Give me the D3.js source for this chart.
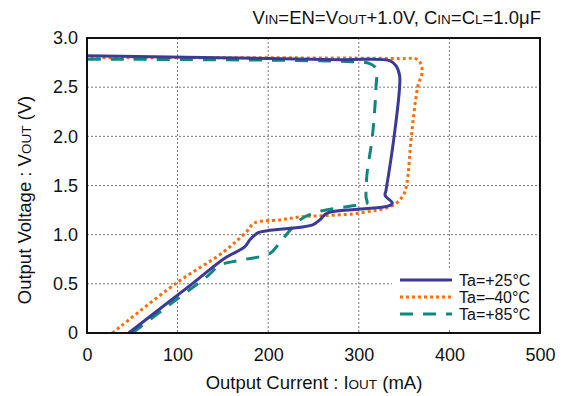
<!DOCTYPE html>
<html><head><meta charset="utf-8">
<script src="https://cdn.jsdelivr.net/npm/d3@7"></script>
<style>body{margin:0;background:#fff}svg{display:block;font-family:"Liberation Sans",Arial,sans-serif}</style>
</head><body><svg id="c" width="570" height="396"></svg>
<script>
const xTicks = [0,100,200,300,400,500];
const yTicks = [0,0.5,1.0,1.5,2.0,2.5,3.0];
const yTickLabels = ["0","0.5","1.0","1.5","2.0","2.5","3.0"];

const I25 = [46,116,152,174,180,189,199,249,257,265,301,332,337,329,330,339,345,345,341,334,279,0];
const V25 = [0,0.50,0.76,0.875,0.95,1.02,1.04,1.10,1.15,1.22,1.26,1.29,1.32,1.40,1.45,2.0,2.5,2.62,2.72,2.77,2.78,2.82];

const I40 = [28,99,150,176,185,213,235,301,338,349,353,358,365,370,365,345,0];
const V40 = [0,0.51,0.82,1.03,1.12,1.15,1.18,1.22,1.30,1.40,1.52,2.0,2.5,2.67,2.78,2.79,2.80];

const I85 = [50,103,132,147,169,202,213,235,254,290,309,308,309,315,319,319,312,287,0];
const V85 = [0,0.37,0.57,0.69,0.74,0.81,0.92,1.15,1.23,1.29,1.32,1.38,1.61,2.0,2.5,2.69,2.74,2.76,2.785];

const seriesNames = ["Ta=+25°C","Ta=\u201340°C","Ta=+85°C"];

const svg = d3.select("#c");
const L=87,R=540,T=38,B=333;
const x = d3.scaleLinear().domain([0,500]).range([L,R]);
const y = d3.scaleLinear().domain([0,3]).range([B,T]);
const FS=18, FT=18.5, FSUB=13.5;

// grid
const g = svg.append("g");
g.selectAll(".vg").data(xTicks.slice(1,-1)).enter().append("line")
 .attr("x1",d=>x(d)).attr("x2",d=>x(d)).attr("y1",T).attr("y2",B)
 .attr("stroke","#777").attr("stroke-width",1).attr("stroke-dasharray","2,2");
g.selectAll(".hg").data(yTicks.slice(1,-1)).enter().append("line")
 .attr("y1",d=>y(d)).attr("y2",d=>y(d)).attr("x1",L).attr("x2",R)
 .attr("stroke","#777").attr("stroke-width",1).attr("stroke-dasharray","2,2");

// axes labels via d3 axes
const xa = svg.append("g").attr("transform",`translate(0,${B})`)
 .call(d3.axisBottom(x).tickValues(xTicks).tickSize(0).tickPadding(15).tickFormat(d3.format("d")));
xa.select(".domain").remove();
xa.selectAll("text").attr("font-size",FS).attr("fill","#111").attr("font-family","Liberation Sans, Arial, sans-serif");
const ya = svg.append("g").attr("transform",`translate(${L},0)`)
 .call(d3.axisLeft(y).tickValues(yTicks).tickSize(0).tickPadding(9).tickFormat((d,i)=>yTickLabels[i]));
ya.select(".domain").remove();
ya.selectAll("text").attr("font-size",FS).attr("fill","#111").attr("font-family","Liberation Sans, Arial, sans-serif");

// curves
const line = d3.line().x(d=>x(d[0])).y(d=>y(d[1])).curve(d3.curveCatmullRom.alpha(0.5));
const mk = (I,V)=>I.map((v,i)=>[v,V[i]]);
const plot = svg.append("g");
plot.append("path").datum(mk(I40,V40)).attr("d",line).attr("fill","none")
 .attr("stroke","#ff6d0a").attr("stroke-width",3).attr("stroke-dasharray","3,3");
plot.append("path").datum(mk(I85,V85)).attr("d",line).attr("fill","none")
 .attr("stroke","#0e877c").attr("stroke-width",3).attr("stroke-dasharray","13,10");
plot.append("path").datum(mk(I25,V25)).attr("d",line).attr("fill","none")
 .attr("stroke","#3a3a98").attr("stroke-width",3);

// legend
svg.append("rect").attr("x",392).attr("y",268).attr("width",146).attr("height",62).attr("fill","#fff");
const leg = [{c:"#3a3a98",d:null,y:280},{c:"#ff6d0a",d:"3,3",y:297},{c:"#0e877c",d:"13,10",y:314}];
leg.forEach((l,i)=>{
  svg.append("line").attr("x1",400).attr("x2",452).attr("y1",l.y).attr("y2",l.y)
   .attr("stroke",l.c).attr("stroke-width",3).attr("stroke-dasharray",l.d);
  svg.append("text").attr("x",459).attr("y",l.y+5.5).attr("font-size",16).attr("fill","#111").text(seriesNames[i]);
});

// frame
svg.append("rect").attr("x",L).attr("y",T).attr("width",R-L).attr("height",B-T)
 .attr("fill","none").attr("stroke","#111").attr("stroke-width",2);

// title
const t = svg.append("text").attr("x",541).attr("y",24).attr("text-anchor","end").attr("font-size",FT).attr("fill","#111");
const parts = [["V",0],["IN",1],["=EN=V",0],["OUT",1],["+1.0V, C",0],["IN",1],["=C",0],["L",1],["=1.0μF",0]];
parts.forEach(p=>t.append("tspan").attr("font-size",p[1]?FSUB:FT).text(p[0]));

// axis titles
const xt = svg.append("text").attr("x",314).attr("y",389).attr("text-anchor","middle").attr("font-size",FT).attr("fill","#111");
[["Output Current : I",0],["OUT",1],[" (mA)",0]].forEach(p=>xt.append("tspan").attr("font-size",p[1]?FSUB:FT).text(p[0]));
const yt = svg.append("text").attr("transform","translate(31,200) rotate(-90)").attr("text-anchor","middle").attr("font-size",FT).attr("fill","#111");
[["Output Voltage : V",0],["OUT",1],[" (V)",0]].forEach(p=>yt.append("tspan").attr("font-size",p[1]?FSUB:FT).text(p[0]));
</script></body></html>
